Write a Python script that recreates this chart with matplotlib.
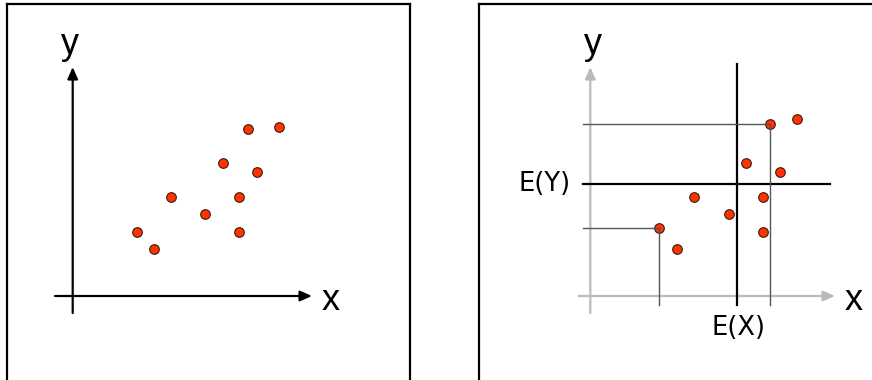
import matplotlib
matplotlib.use("Agg")
import matplotlib.pyplot as plt

# ---- data (units: 1 unit = 20 px) ----
left_x = [8.78, 10.30, 7.50, 9.20, 4.92, 8.33, 6.63, 3.20, 8.33, 4.05]
left_y = [8.37, 8.44, 6.64, 6.22, 4.94, 4.94, 4.09, 3.22, 3.22, 2.35]

right_x = [9.00, 10.34, 7.79, 9.50, 5.17, 8.64, 6.92, 3.42, 8.64, 4.35]
right_y = [8.59, 8.85, 6.64, 6.22, 4.94, 4.94, 4.09, 3.39, 3.22, 2.35]

mean_x = 7.32
mean_y = 5.585
highlight = [0, 7]

axis_labels = ["x", "y"]
mean_labels = ["E(X)", "E(Y)"]

W, H = 872, 380
fig = plt.figure(figsize=(W / 100, H / 100), dpi=100)

PT_RED = "#ff3300"
EDGE = "#3a1a10"
LBL_FONT = ["Liberation Sans", "DejaVu Sans"]


def panel(px_left, px_right, origin_px):
    ax = fig.add_axes([px_left / W, 0, (px_right - px_left) / W, (H - 4) / H])
    ox, oy = origin_px
    ax.set_xlim((px_left - ox) / 20, (px_right - ox) / 20)
    ax.set_ylim((oy - H) / 20, (oy - 4) / 20)
    ax.set_xticks([])
    ax.set_yticks([])
    for s in ax.spines.values():
        s.set_linewidth(1.6)
        s.set_color("black")
    ax.spines["bottom"].set_visible(False)
    return ax


def arrow(ax, start, end, color):
    ax.annotate("", xy=end, xytext=start,
                arrowprops=dict(arrowstyle="-|>,head_length=0.5,head_width=0.22",
                                lw=1.6, color=color,
                                mutation_scale=14, shrinkA=0, shrinkB=0),
                zorder=1)


# ---- left panel ----
axL = panel(7, 410, (72.7, 296))
arrow(axL, (0, -0.85), (0, 11.45), "black")
arrow(axL, (-0.885, 0), (11.965, 0), "black")
axL.text(-0.135, 12.55, axis_labels[1], fontsize=26, ha="center", va="center",
         family=LBL_FONT)
axL.text(12.9, -0.2, axis_labels[0], fontsize=26, ha="center", va="center",
         family=LBL_FONT)
axL.scatter(left_x, left_y, s=48, color=PT_RED, edgecolors=EDGE,
            linewidths=0.8, zorder=3)

# ---- right panel ----
axR = panel(479, 872, (590.3, 296))
axR.spines["right"].set_visible(False)
grey = "#bbbbbb"
arrow(axR, (0, -0.85), (0, 11.45), grey)
arrow(axR, (-0.58, 0), (12.235, 0), grey)
axR.text(0.12, 12.55, axis_labels[1], fontsize=26, ha="center", va="center",
         family=LBL_FONT)
axR.text(13.17, -0.2, axis_labels[0], fontsize=26, ha="center", va="center",
         family=LBL_FONT)

axR.plot([-0.38, 11.985], [mean_y, mean_y], color="black", lw=1.6, zorder=2)
axR.plot([mean_x, mean_x], [-0.45, 11.585], color="black", lw=1.6, zorder=2)
axR.text(-0.965, mean_y, mean_labels[1], fontsize=18.5, ha="right", va="center")
axR.text(mean_x + 0.11, -1.6, mean_labels[0], fontsize=18.5, ha="center", va="center")

axR.scatter(right_x, right_y, s=48, color=PT_RED, edgecolors=EDGE,
            linewidths=0.8, zorder=3)
for i in highlight:
    axR.plot([-0.38, right_x[i], right_x[i]], [right_y[i], right_y[i], -0.45],
             color="#555555", lw=1.0, zorder=4)

fig.savefig("out.png", dpi=100)
